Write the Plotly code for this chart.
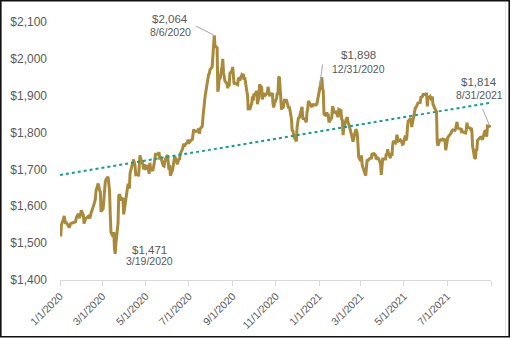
import pandas as pd
import plotly.graph_objects as go

# Daily gold closing prices, USD per ounce
gold_2020 = [
    ("2020-01-02", 1518), ("2020-01-03", 1549), ("2020-01-06", 1566), ("2020-01-07", 1574),
    ("2020-01-08", 1561), ("2020-01-09", 1552), ("2020-01-10", 1557), ("2020-01-13", 1548),
    ("2020-01-14", 1542), ("2020-01-16", 1553), ("2020-01-21", 1558), ("2020-01-23", 1558),
    ("2020-01-24", 1569), ("2020-01-27", 1580), ("2020-01-28", 1568), ("2020-01-30", 1576),
    ("2020-01-31", 1589), ("2020-02-03", 1576), ("2020-02-04", 1553), ("2020-02-06", 1566),
    ("2020-02-10", 1573), ("2020-02-12", 1567), ("2020-02-14", 1582), ("2020-02-18", 1601),
    ("2020-02-19", 1611), ("2020-02-20", 1620), ("2020-02-21", 1643), ("2020-02-24", 1662),
    ("2020-02-25", 1649), ("2020-02-26", 1643), ("2020-02-27", 1640), ("2020-02-28", 1585),
    ("2020-03-02", 1594), ("2020-03-03", 1640), ("2020-03-04", 1643), ("2020-03-05", 1666),
    ("2020-03-06", 1673), ("2020-03-09", 1680), ("2020-03-10", 1655), ("2020-03-11", 1642),
    ("2020-03-12", 1578), ("2020-03-13", 1530), ("2020-03-16", 1518), ("2020-03-17", 1530),
    ("2020-03-18", 1485), ("2020-03-19", 1471), ("2020-03-20", 1499), ("2020-03-23", 1555),
    ("2020-03-24", 1629), ("2020-03-25", 1632), ("2020-03-26", 1628), ("2020-03-27", 1617),
    ("2020-03-30", 1622), ("2020-03-31", 1578), ("2020-04-01", 1591), ("2020-04-02", 1618),
    ("2020-04-03", 1619), ("2020-04-06", 1658), ("2020-04-07", 1658), ("2020-04-08", 1648),
    ("2020-04-09", 1690), ("2020-04-14", 1727), ("2020-04-15", 1720), ("2020-04-16", 1710),
    ("2020-04-17", 1686), ("2020-04-20", 1688), ("2020-04-21", 1681), ("2020-04-22", 1714),
    ("2020-04-23", 1738), ("2020-04-24", 1729), ("2020-04-27", 1715), ("2020-04-28", 1700),
    ("2020-04-29", 1714), ("2020-04-30", 1702), ("2020-05-01", 1702), ("2020-05-04", 1711),
    ("2020-05-05", 1703), ("2020-05-06", 1688), ("2020-05-07", 1718), ("2020-05-08", 1704),
    ("2020-05-11", 1696), ("2020-05-12", 1704), ("2020-05-13", 1715), ("2020-05-14", 1729),
    ("2020-05-15", 1741), ("2020-05-18", 1741), ("2020-05-19", 1745), ("2020-05-20", 1746),
    ("2020-05-21", 1727), ("2020-05-22", 1735), ("2020-05-26", 1710), ("2020-05-27", 1709),
    ("2020-05-28", 1719), ("2020-05-29", 1728), ("2020-06-01", 1739), ("2020-06-02", 1725),
    ("2020-06-03", 1699), ("2020-06-04", 1712), ("2020-06-05", 1683), ("2020-06-08", 1698),
    ("2020-06-09", 1715), ("2020-06-10", 1735), ("2020-06-11", 1736), ("2020-06-12", 1730),
    ("2020-06-15", 1714), ("2020-06-16", 1723), ("2020-06-17", 1730), ("2020-06-18", 1726),
    ("2020-06-19", 1743), ("2020-06-22", 1755), ("2020-06-23", 1768), ("2020-06-24", 1770),
    ("2020-06-25", 1762), ("2020-06-26", 1768), ("2020-06-29", 1773), ("2020-06-30", 1781),
    ("2020-07-01", 1770), ("2020-07-02", 1775), ("2020-07-06", 1782), ("2020-07-07", 1795),
    ("2020-07-08", 1809), ("2020-07-09", 1803), ("2020-07-10", 1803), ("2020-07-13", 1805),
    ("2020-07-14", 1804), ("2020-07-15", 1811), ("2020-07-16", 1797), ("2020-07-17", 1810),
    ("2020-07-20", 1817), ("2020-07-21", 1842), ("2020-07-22", 1865), ("2020-07-23", 1887),
    ("2020-07-24", 1898), ("2020-07-27", 1934), ("2020-07-28", 1957), ("2020-07-29", 1958),
    ("2020-07-30", 1960), ("2020-07-31", 1971), ("2020-08-03", 1978), ("2020-08-04", 2017),
    ("2020-08-05", 2049), ("2020-08-06", 2064), ("2020-08-07", 2035), ("2020-08-10", 2030),
    ("2020-08-11", 1911), ("2020-08-12", 1922), ("2020-08-13", 1951), ("2020-08-14", 1944),
    ("2020-08-17", 1980), ("2020-08-18", 2000), ("2020-08-19", 1964), ("2020-08-20", 1941),
    ("2020-08-21", 1940), ("2020-08-24", 1932), ("2020-08-25", 1920), ("2020-08-26", 1935),
    ("2020-08-27", 1925), ("2020-08-28", 1960), ("2020-08-31", 1968), ("2020-09-01", 1978),
    ("2020-09-02", 1943), ("2020-09-03", 1931), ("2020-09-04", 1934), ("2020-09-08", 1930),
    ("2020-09-09", 1946), ("2020-09-10", 1947), ("2020-09-11", 1941), ("2020-09-14", 1957),
    ("2020-09-15", 1955), ("2020-09-16", 1959), ("2020-09-17", 1943), ("2020-09-18", 1950),
    ("2020-09-21", 1912), ("2020-09-22", 1902), ("2020-09-23", 1861), ("2020-09-24", 1868),
    ("2020-09-25", 1862), ("2020-09-28", 1880), ("2020-09-29", 1898), ("2020-09-30", 1887),
    ("2020-10-01", 1906), ("2020-10-02", 1900), ("2020-10-05", 1913), ("2020-10-06", 1877),
    ("2020-10-07", 1888), ("2020-10-08", 1894), ("2020-10-09", 1930), ("2020-10-12", 1922),
    ("2020-10-13", 1890), ("2020-10-14", 1901), ("2020-10-15", 1908), ("2020-10-16", 1899),
    ("2020-10-19", 1904), ("2020-10-20", 1907), ("2020-10-21", 1924), ("2020-10-22", 1905),
    ("2020-10-23", 1902), ("2020-10-26", 1903), ("2020-10-27", 1908), ("2020-10-28", 1878),
    ("2020-10-29", 1868), ("2020-10-30", 1879), ("2020-11-02", 1893), ("2020-11-03", 1908),
    ("2020-11-04", 1903), ("2020-11-05", 1949), ("2020-11-06", 1951), ("2020-11-09", 1862),
    ("2020-11-10", 1877), ("2020-11-11", 1866), ("2020-11-12", 1873), ("2020-11-13", 1888),
    ("2020-11-16", 1888), ("2020-11-17", 1881), ("2020-11-18", 1872), ("2020-11-19", 1866),
    ("2020-11-20", 1871), ("2020-11-23", 1838), ("2020-11-24", 1806), ("2020-11-25", 1805),
    ("2020-11-27", 1788), ("2020-11-30", 1776), ("2020-12-01", 1815), ("2020-12-02", 1831),
    ("2020-12-03", 1841), ("2020-12-04", 1839), ("2020-12-07", 1862), ("2020-12-08", 1870),
    ("2020-12-09", 1839), ("2020-12-10", 1836), ("2020-12-11", 1840), ("2020-12-14", 1828),
    ("2020-12-15", 1855), ("2020-12-16", 1863), ("2020-12-17", 1886), ("2020-12-18", 1882),
    ("2020-12-21", 1872), ("2020-12-22", 1874), ("2020-12-23", 1873), ("2020-12-24", 1876),
    ("2020-12-28", 1875), ("2020-12-29", 1878), ("2020-12-30", 1888), ("2020-12-31", 1898),
]

gold_2021 = [
    ("2021-01-04", 1944), ("2021-01-05", 1950), ("2021-01-06", 1918), ("2021-01-07", 1913),
    ("2021-01-08", 1850), ("2021-01-11", 1845), ("2021-01-12", 1855), ("2021-01-13", 1846),
    ("2021-01-14", 1851), ("2021-01-15", 1828), ("2021-01-19", 1840), ("2021-01-20", 1871),
    ("2021-01-21", 1866), ("2021-01-22", 1855), ("2021-01-25", 1856), ("2021-01-26", 1850),
    ("2021-01-27", 1844), ("2021-01-28", 1842), ("2021-01-29", 1863), ("2021-02-01", 1860),
    ("2021-02-02", 1836), ("2021-02-03", 1834), ("2021-02-04", 1793), ("2021-02-05", 1813),
    ("2021-02-08", 1834), ("2021-02-09", 1838), ("2021-02-10", 1842), ("2021-02-11", 1827),
    ("2021-02-12", 1823), ("2021-02-16", 1794), ("2021-02-17", 1775), ("2021-02-18", 1775),
    ("2021-02-19", 1784), ("2021-02-22", 1809), ("2021-02-23", 1805), ("2021-02-24", 1797),
    ("2021-02-25", 1769), ("2021-02-26", 1734), ("2021-03-01", 1723), ("2021-03-02", 1738),
    ("2021-03-03", 1712), ("2021-03-04", 1700), ("2021-03-05", 1700), ("2021-03-08", 1683),
    ("2021-03-09", 1716), ("2021-03-10", 1727), ("2021-03-11", 1722), ("2021-03-12", 1727),
    ("2021-03-15", 1731), ("2021-03-16", 1731), ("2021-03-17", 1745), ("2021-03-18", 1737),
    ("2021-03-19", 1745), ("2021-03-22", 1738), ("2021-03-23", 1727), ("2021-03-24", 1735),
    ("2021-03-25", 1726), ("2021-03-26", 1731), ("2021-03-29", 1714), ("2021-03-30", 1685),
    ("2021-03-31", 1708), ("2021-04-01", 1728), ("2021-04-05", 1728), ("2021-04-06", 1743),
    ("2021-04-07", 1741), ("2021-04-08", 1755), ("2021-04-09", 1743), ("2021-04-12", 1731),
    ("2021-04-13", 1745), ("2021-04-14", 1737), ("2021-04-15", 1764), ("2021-04-16", 1777),
    ("2021-04-19", 1772), ("2021-04-20", 1778), ("2021-04-21", 1794), ("2021-04-22", 1783),
    ("2021-04-23", 1777), ("2021-04-26", 1780), ("2021-04-27", 1778), ("2021-04-28", 1773),
    ("2021-04-29", 1768), ("2021-04-30", 1769), ("2021-05-03", 1792), ("2021-05-04", 1779),
    ("2021-05-05", 1786), ("2021-05-06", 1815), ("2021-05-07", 1831), ("2021-05-10", 1837),
    ("2021-05-11", 1836), ("2021-05-12", 1815), ("2021-05-13", 1826), ("2021-05-14", 1843),
    ("2021-05-17", 1867), ("2021-05-18", 1868), ("2021-05-19", 1872), ("2021-05-20", 1876),
    ("2021-05-21", 1881), ("2021-05-24", 1882), ("2021-05-25", 1898), ("2021-05-26", 1896),
    ("2021-05-27", 1897), ("2021-05-28", 1903), ("2021-06-01", 1903), ("2021-06-02", 1908),
    ("2021-06-03", 1871), ("2021-06-04", 1892), ("2021-06-07", 1898), ("2021-06-08", 1893),
    ("2021-06-09", 1888), ("2021-06-10", 1898), ("2021-06-11", 1877), ("2021-06-14", 1864),
    ("2021-06-15", 1859), ("2021-06-16", 1857), ("2021-06-17", 1774), ("2021-06-18", 1764),
    ("2021-06-21", 1782), ("2021-06-22", 1779), ("2021-06-23", 1783), ("2021-06-24", 1777),
    ("2021-06-25", 1782), ("2021-06-28", 1780), ("2021-06-29", 1752), ("2021-06-30", 1763),
    ("2021-07-01", 1777), ("2021-07-02", 1787), ("2021-07-06", 1797), ("2021-07-07", 1803),
    ("2021-07-08", 1805), ("2021-07-09", 1807), ("2021-07-12", 1806), ("2021-07-13", 1810),
    ("2021-07-14", 1823), ("2021-07-15", 1829), ("2021-07-16", 1812), ("2021-07-19", 1812),
    ("2021-07-20", 1810), ("2021-07-21", 1804), ("2021-07-22", 1806), ("2021-07-23", 1802),
    ("2021-07-26", 1798), ("2021-07-27", 1799), ("2021-07-28", 1806), ("2021-07-29", 1827),
    ("2021-07-30", 1814), ("2021-08-02", 1813), ("2021-08-03", 1810), ("2021-08-04", 1813),
    ("2021-08-05", 1804), ("2021-08-06", 1763), ("2021-08-09", 1729), ("2021-08-10", 1731),
    ("2021-08-11", 1752), ("2021-08-12", 1753), ("2021-08-13", 1779), ("2021-08-16", 1786),
    ("2021-08-17", 1787), ("2021-08-18", 1787), ("2021-08-19", 1781), ("2021-08-20", 1781),
    ("2021-08-23", 1803), ("2021-08-24", 1804), ("2021-08-25", 1790), ("2021-08-26", 1792),
    ("2021-08-27", 1818), ("2021-08-30", 1817), ("2021-08-31", 1814),
]

# Linear trend line: level at the start and at the end of the period
trend_dates = ["2020-01-01", "2021-08-31"]
trend_values = [1685, 1881]

# Axis tick dates and their labels (last tick is unlabelled)
tick_dates = ["2020-01-01", "2020-03-01", "2020-05-01", "2020-07-01", "2020-09-01",
              "2020-11-01", "2021-01-01", "2021-03-01", "2021-05-01", "2021-07-01",
              "2021-09-01"]
tick_labels = ["1/1/2020", "3/1/2020", "5/1/2020", "7/1/2020", "9/1/2020",
               "11/1/2020", "1/1/2021", "3/1/2021", "5/1/2021", "7/1/2021", ""]

y_ticks = [1400, 1500, 1600, 1700, 1800, 1900, 2000, 2100]
y_tick_labels = ["$1,400", "$1,500", "$1,600", "$1,700", "$1,800", "$1,900",
                 "$2,000", "$2,100"]

# Called-out closes
callout_dates = ["2020-08-06", "2020-03-19", "2020-12-31", "2021-08-31"]
callout_prices = [2064, 1471, 1898, 1814]

# Label placement relative to each called-out point, in pixels:
# (value dx, value dy, date dx, date dy, leader start dx, dy or None, leader standoff)
callout_layout = [
    (-44, 16, -44, 3, (-20, -10), 1),
    (34, 4, 34, -7, None, 0),
    (40, 41, 40, 27.5, (4.5, -34), 11),
    (-11, 45, -10.5, 32.5, (-8.5, -20.5), 2.5),
]

df = pd.DataFrame(gold_2020 + gold_2021, columns=["date", "price"])
df["date"] = pd.to_datetime(df["date"])

GOLD = "#A98A3B"
TEAL = "#12A08A"
GREY_TEXT = "#595959"
LEADER = "#A6A6A6"
FONT = "Liberation Sans, Arial, sans-serif"

fig = go.Figure()
fig.add_trace(go.Scatter(
    x=df["date"], y=df["price"], mode="lines",
    line=dict(color=GOLD, width=3), showlegend=False, hoverinfo="skip",
))
fig.add_trace(go.Scatter(
    x=trend_dates, y=trend_values, mode="lines",
    line=dict(color=TEAL, width=2, dash="dot"), showlegend=False, hoverinfo="skip",
))

for d, p, (vdx, vdy, ddx, ddy, lead, stand) in zip(callout_dates, callout_prices,
                                                    callout_layout):
    when = pd.Timestamp(d)
    fig.add_annotation(
        x=d, y=p, text=f"${p:,}", showarrow=False, xshift=vdx, yshift=vdy,
        font=dict(family=FONT, size=11.5, color=GREY_TEXT),
    )
    fig.add_annotation(
        x=d, y=p, text=f"{when.month}/{when.day}/{when.year}", showarrow=False,
        xshift=ddx, yshift=ddy, font=dict(family=FONT, size=10.5, color=GREY_TEXT),
    )
    if lead is not None:
        fig.add_annotation(
            x=d, y=p, text=" ", showarrow=True, ax=lead[0], ay=lead[1],
            axref="pixel", ayref="pixel", arrowhead=0, arrowwidth=1,
            arrowcolor=LEADER, standoff=stand, font=dict(size=1),
        )

L, R, T, B = 60, 20, 22, 58
W, H = 511, 338
pw, ph = W - L - R, H - T - B


def px_x(px):
    return (px - L) / pw


def px_y(py):
    return (H - B - py) / ph


# Outer frame around the whole chart
fig.add_shape(type="rect", xref="paper", yref="paper",
              x0=px_x(0.8), x1=px_x(509.2), y0=px_y(336.8), y1=px_y(0.8),
              line=dict(color="#111111", width=1.6), layer="above")
fig.add_shape(type="line", xref="paper", yref="paper",
              x0=px_x(505.5), x1=px_x(505.5), y0=px_y(336), y1=px_y(2),
              line=dict(color="#E4E4E4", width=1))

fig.update_layout(
    width=W, height=H,
    margin=dict(l=L, r=R, t=T, b=B, pad=0),
    paper_bgcolor="white", plot_bgcolor="white",
    font=dict(family=FONT, color=GREY_TEXT),
    showlegend=False,
)
fig.update_xaxes(
    type="date", range=["2020-01-01", "2021-09-01"],
    tickvals=tick_dates, ticktext=tick_labels, tickangle=-45,
    tickfont=dict(family=FONT, size=10.5, color=GREY_TEXT),
    showgrid=False, zeroline=False,
    showline=True, linecolor="#D9D9D9", linewidth=1,
    ticks="outside", ticklen=5, tickcolor="#D9D9D9", automargin=False,
)
fig.update_yaxes(
    range=[1400, 2100], tickvals=y_ticks, ticktext=y_tick_labels,
    tickfont=dict(family=FONT, size=12, color=GREY_TEXT),
    showgrid=False, zeroline=False, showline=False, ticks="",
    ticklabelstandoff=12, automargin=False,
)

fig.write_html("out.html")
